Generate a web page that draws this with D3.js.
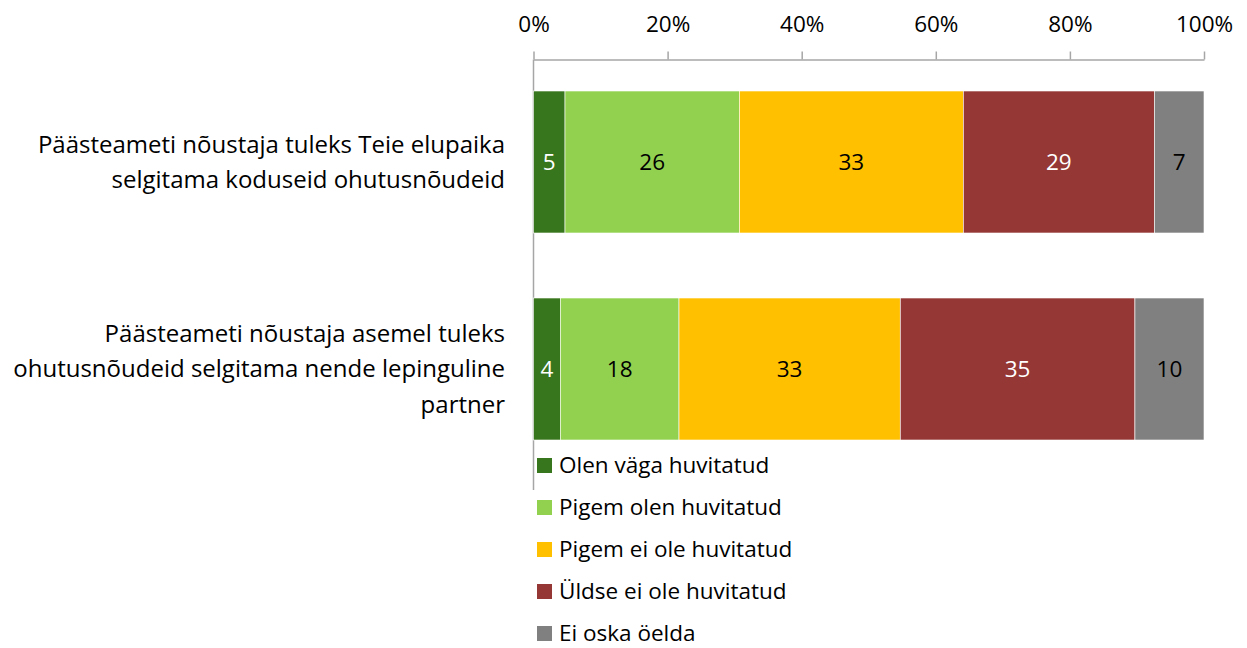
<!DOCTYPE html>
<html lang="et">
<head>
<meta charset="UTF-8">
<title>Huvi ohutusnõuete selgitamise vastu</title>
<script src="https://d3js.org/d3.v7.min.js"></script>
<style>
    body { margin: 0; background: #fff; font-family: 'Open Sans', sans-serif; }
    .tick text { font-size: 22.5px; fill: #000; }
    .cat { font-size: 24px; fill: #000; }
    .lbl { font-size: 22.5px; }
    .leg text { font-size: 22.5px; fill: #000; }
</style>
</head>
<body>
<div id="chart"></div>
<script>
    // data (percent)
    const categories = [
        ["Päästeameti nõustaja tuleks Teie elupaika", "selgitama koduseid ohutusnõudeid"],
        ["Päästeameti nõustaja asemel tuleks", "ohutusnõudeid selgitama nende lepinguline", "partner"]
    ];
    const seriesNames = ["Olen väga huvitatud", "Pigem olen huvitatud", "Pigem ei ole huvitatud", "Üldse ei ole huvitatud", "Ei oska öelda"];
    const values1 = [4.7, 26.0, 33.4, 28.5, 7.4];
    const values2 = [4.0, 17.7, 33.0, 35.0, 10.3];
    const labels1 = [5, 26, 33, 29, 7];
    const labels2 = [4, 18, 33, 35, 10];
    const colors = ["#38761d", "#92d050", "#ffc000", "#953735", "#808080"];
    const labelColors = ["#fff", "#000", "#000", "#fff", "#000"];
    const ticks = [0, 20, 40, 60, 80, 100];

    const W = 1247, H = 648;
    const svg = d3.select("#chart").append("svg").attr("width", W).attr("height", H);

    const x = d3.scaleLinear().domain([0, 100]).range([533.5, 1204]);
    const y = d3.scaleBand().domain([0, 1]).range([91, 440]).paddingInner(0.314).paddingOuter(0);

    // top axis
    const ax = svg.append("g").attr("transform", "translate(0,59.5)")
        .call(d3.axisTop(x).tickValues(ticks).tickFormat(d => d + "%").tickSize(8).tickSizeOuter(0).tickPadding(19.5));
    ax.select(".domain").attr("stroke", "#a6a6a6").attr("stroke-width", 1.5);
    ax.selectAll(".tick line").attr("stroke", "#a6a6a6").attr("stroke-width", 1.5);
    ax.selectAll(".tick text").attr("font-family", "'Open Sans', sans-serif");

    // vertical axis line
    svg.append("line").attr("x1", x(0)).attr("x2", x(0)).attr("y1", 59.5).attr("y2", 490)
        .attr("stroke", "#a6a6a6").attr("stroke-width", 1.5);

    const rows = [values1, values2].map((vals, i) => {
        let acc = 0;
        return vals.map((v, j) => {
            const s = { row: i, k: j, x0: acc, x1: acc + v, label: [labels1, labels2][i][j] };
            acc += v;
            return s;
        });
    });

    const g = svg.append("g");
    rows.forEach(segs => {
        g.selectAll(null).data(segs).enter().append("rect")
            .attr("x", d => x(d.x0))
            .attr("width", d => x(d.x1) - x(d.x0))
            .attr("y", d => y(d.row))
            .attr("height", y.bandwidth())
            .attr("fill", d => colors[d.k])
            .attr("stroke", "#fff").attr("stroke-width", 0.6);
        g.selectAll(null).data(segs).enter().append("text")
            .attr("class", "lbl")
            .attr("x", d => (x(d.x0) + x(d.x1)) / 2)
            .attr("y", d => y(d.row) + y.bandwidth() / 2)
            .attr("dy", "0.35em")
            .attr("text-anchor", "middle")
            .attr("fill", d => labelColors[d.k])
            .text(d => d.label);
    });

    // category labels
    categories.forEach((lines, i) => {
        const cy = y(i) + y.bandwidth() / 2;
        const lh = 35.5;
        const t = svg.append("text").attr("class", "cat").attr("text-anchor", "end");
        lines.forEach((ln, k) => {
            t.append("tspan").attr("x", 505)
                .attr("y", cy + (k - (lines.length - 1) / 2) * lh)
                .attr("dy", "0.35em").text(ln);
        });
    });

    // legend
    const leg = svg.append("g").attr("class", "leg");
    seriesNames.forEach((n, i) => {
        const ly = 465.5 + i * 42;
        leg.append("rect").attr("x", 537).attr("y", ly - 7.5).attr("width", 15).attr("height", 15).attr("fill", colors[i]);
        leg.append("text").attr("x", 559).attr("y", ly).attr("dy", "0.35em").text(n);
    });
</script>
</body>
</html>
